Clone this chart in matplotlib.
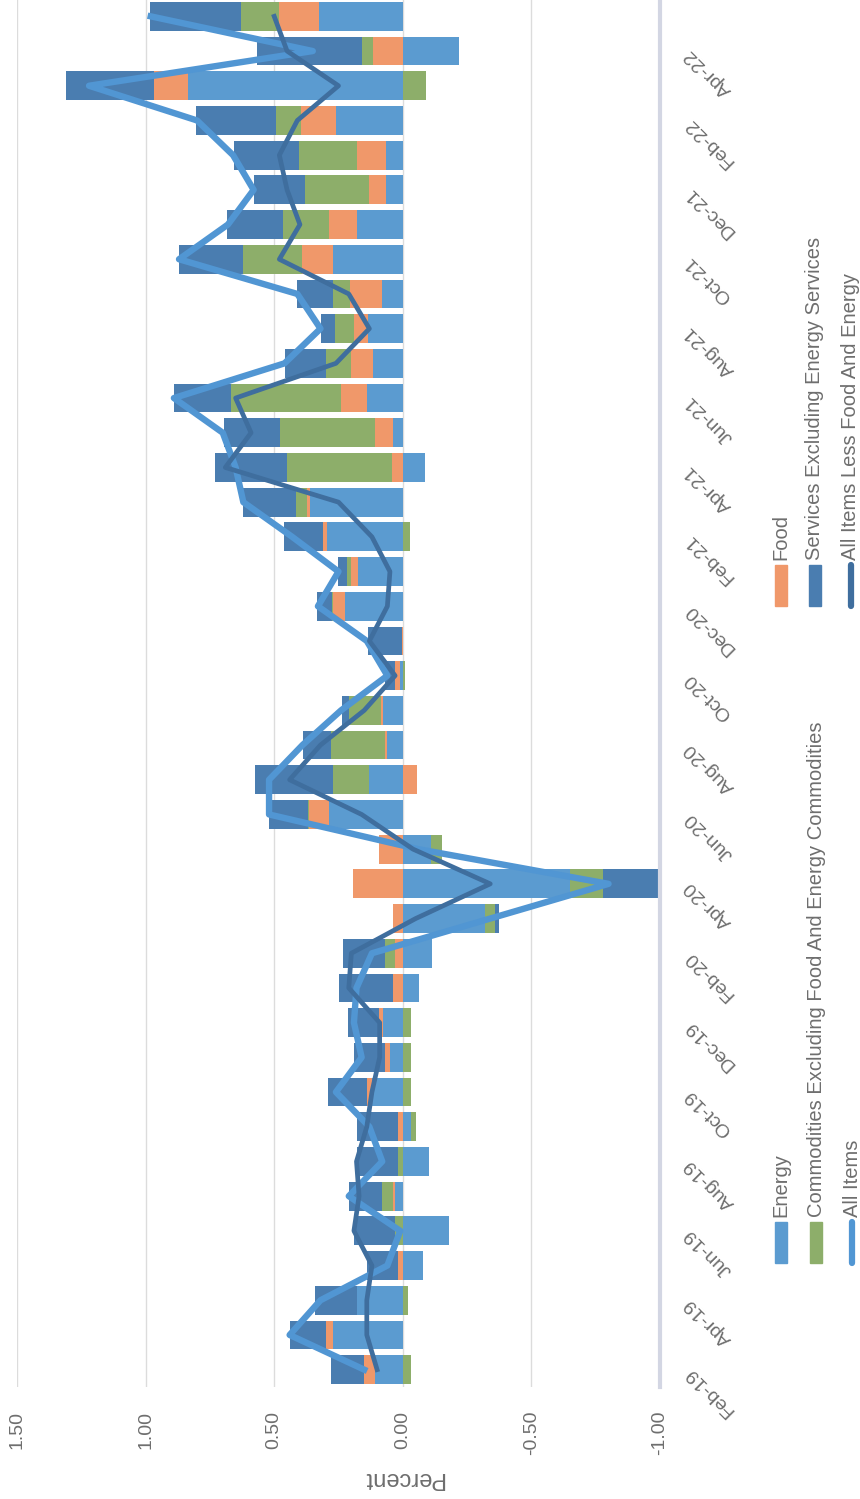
import numpy as np
import matplotlib
matplotlib.use("Agg")
import matplotlib.pyplot as plt
from matplotlib.patches import Rectangle

# monthly contributions to CPI change (percentage points), Feb-19 .. May-22
months = ["Feb-19", "Mar-19", "Apr-19", "May-19", "Jun-19", "Jul-19", "Aug-19", "Sep-19",
          "Oct-19", "Nov-19", "Dec-19", "Jan-20", "Feb-20", "Mar-20", "Apr-20", "May-20",
          "Jun-20", "Jul-20", "Aug-20", "Sep-20", "Oct-20", "Nov-20", "Dec-20", "Jan-21",
          "Feb-21", "Mar-21", "Apr-21", "May-21", "Jun-21", "Jul-21", "Aug-21", "Sep-21",
          "Oct-21", "Nov-21", "Dec-21", "Jan-22", "Feb-22", "Mar-22", "Apr-22", "May-22"]

energy = [0.11, 0.27, 0.18, -0.08, -0.18, 0.03, -0.10, -0.03, 0.12, 0.05,
          0.076, -0.064, -0.115, -0.32, -0.65, -0.11, 0.288, 0.132, 0.063, 0.076,
          0.01, 0.0, 0.225, 0.175, 0.293, 0.36, -0.085, 0.039, 0.139, 0.115,
          0.136, 0.08, 0.27, 0.178, 0.064, 0.064, 0.26, 0.836, -0.22, 0.325]
food = [0.04, 0.03, 0.0, 0.02, 0.0, 0.01, 0.0, 0.02, 0.02, 0.02,
        0.017, 0.037, 0.03, 0.037, 0.195, 0.093, 0.076, -0.054, 0.008, 0.008,
        0.02, 0.005, 0.046, 0.025, 0.017, 0.012, 0.042, 0.068, 0.103, 0.088,
        0.054, 0.127, 0.12, 0.107, 0.066, 0.114, 0.136, 0.13, 0.114, 0.158]
commodities = [-0.03, 0.0, -0.02, 0.0, 0.03, 0.04, 0.02, -0.02, -0.03, -0.03,
               -0.03, 0.0, 0.039, -0.037, -0.127, -0.042, 0.005, 0.139, 0.208, 0.127,
               -0.01, 0.0, 0.005, 0.017, -0.029, 0.042, 0.41, 0.37, 0.427, 0.097,
               0.073, 0.066, 0.23, 0.18, 0.25, 0.224, 0.097, -0.09, 0.044, 0.147]
services = [0.13, 0.14, 0.16, 0.12, 0.16, 0.13, 0.16, 0.16, 0.15, 0.12,
            0.122, 0.21, 0.164, -0.017, -0.217, 0.0, 0.15, 0.305, 0.11, 0.025,
            0.04, 0.13, 0.056, 0.034, 0.153, 0.207, 0.28, 0.22, 0.22, 0.158,
            0.056, 0.14, 0.25, 0.217, 0.2, 0.254, 0.31, 0.344, 0.41, 0.353]
all_items = [0.15, 0.44, 0.32, 0.06, 0.01, 0.21, 0.08, 0.13, 0.26, 0.16,
             0.19, 0.18, 0.12, -0.34, -0.80, -0.06, 0.52, 0.52, 0.39, 0.24,
             0.06, 0.14, 0.33, 0.25, 0.43, 0.62, 0.65, 0.70, 0.89, 0.46,
             0.32, 0.41, 0.87, 0.68, 0.58, 0.66, 0.80, 1.22, 0.35, 0.98]
core = [0.10, 0.14, 0.14, 0.12, 0.19, 0.17, 0.18, 0.14, 0.12, 0.09,
        0.09, 0.21, 0.20, -0.05, -0.34, -0.04, 0.16, 0.44, 0.32, 0.15,
        0.03, 0.13, 0.06, 0.05, 0.12, 0.25, 0.69, 0.59, 0.65, 0.26,
        0.13, 0.21, 0.48, 0.40, 0.45, 0.48, 0.41, 0.25, 0.45, 0.50]

value_ticks = [1.5, 1.0, 0.5, 0.0, -0.5, -1.0]

series = [("Energy", energy, "#5B9BD0"),
          ("Food", food, "#F0986A"),
          ("Commodities Excluding Food And Energy Commodities", commodities, "#8DAE6A"),
          ("Services Excluding Energy Services", services, "#4A7DB0")]
c_all = "#5196D3"
c_core = "#3F6E9E"
grey = "#6e6e6e"

plt.rcParams['font.family'] = ['Liberation Sans', 'DejaVu Sans']

fig = plt.figure(figsize=(8.6, 14.99), dpi=100)
ax = fig.add_axes([17/860, 112/1499, 643/860, 1388/1499])

y = np.arange(len(months))
pos = np.zeros(len(months))
neg = np.zeros(len(months))
for name, vals, col in series:
    v = np.array(vals)
    left = np.where(v >= 0, pos, neg)
    ax.barh(y, v, left=left, height=0.83, color=col, zorder=2)
    pos = pos + np.where(v >= 0, v, 0)
    neg = neg + np.where(v < 0, v, 0)

ax.plot(all_items, y, color=c_all, lw=4.6, solid_joinstyle='round', zorder=3)
ax.plot(core, y, color=c_core, lw=3.4, solid_joinstyle='round', zorder=4)

ax.set_xlim(1.5, -1.0)
ax.set_ylim(-0.5, len(months) - 0.5)
ax.set_axisbelow(True)
ax.xaxis.grid(True, color="#dcdcdc", lw=1)
for s in ["top", "bottom", "left"]:
    ax.spines[s].set_visible(False)
ax.spines["right"].set_color("#d3d6e3")
ax.spines["right"].set_linewidth(3)

ax.set_xticks(value_ticks)
ax.set_xticklabels([f"{v:.2f}" for v in value_ticks], rotation=90, fontsize=14, color=grey)
ax.tick_params(axis="x", length=0, pad=17)

ax.yaxis.tick_right()
ax.set_yticks(y[::2])
ax.set_yticklabels(months[::2], fontsize=14, color=grey)
ax.tick_params(axis="y", length=0, pad=20)
for lab in ax.get_yticklabels():
    lab.set_rotation(135)
    lab.set_rotation_mode("anchor")
    lab.set_ha("right")
    lab.set_va("center")

# overlay in pixel space for axis title and legend
lax = fig.add_axes([0, 0, 1, 1])
lax.set_xlim(0, 860)
lax.set_ylim(1499, 0)
lax.axis("off")
lax.text(403, 1478, "Percent", rotation=180, ha="center", va="center", fontsize=17, color=grey)

legend_items = [("Energy", "#5B9BD0", "bar", 781, 1222),
                ("Commodities Excluding Food And Energy Commodities", "#8DAE6A", "bar", 816, 1222),
                ("All Items", c_all, "line", 852, 1222),
                ("Food", "#F0986A", "bar", 781, 565),
                ("Services Excluding Energy Services", "#4A7DB0", "bar", 815, 565),
                ("All Items Less Food And Energy", c_core, "line", 851, 565)]
for label, col, kind, xc, ys in legend_items:
    if kind == "bar":
        lax.add_patch(Rectangle((xc - 6, ys), 12, 41, color=col))
    else:
        lax.plot([xc, xc], [ys, ys + 41], color=col, lw=4.5, solid_capstyle="round")
    lax.text(xc, ys - 5, label, rotation=90, rotation_mode="anchor", ha="left", va="center",
             fontsize=14.5, color=grey)

fig.savefig("out.png", dpi=100)
